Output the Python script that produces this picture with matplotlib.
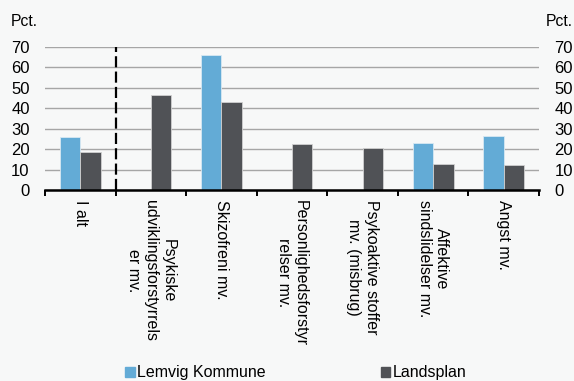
import numpy as np
import matplotlib.pyplot as plt
from matplotlib.patches import Patch

plt.rcParams['font.family'] = ['Liberation Sans', 'DejaVu Sans']

categories = ["I alt", "Psykiske\nudviklingsforstyrrels\ner mv.", "Skizofreni mv.",
              "Personlighedsforstyr\nrelser mv.", "Psykoaktive stoffer\nmv. (misbrug)",
              "Affektive\nsindslidelser mv.", "Angst mv."]
lemvig = [25.8, np.nan, 66.1, np.nan, np.nan, 22.9, 26.4]
landsplan = [18.8, 46.7, 43.3, 22.6, 20.6, 12.8, 12.3]

blue = "#63abd6"
dark = "#505256"
bg = "#f7f8f8"

fig = plt.figure(figsize=(5.74, 3.81), dpi=100, facecolor=bg)
ax = fig.add_axes([45 / 574, 1 - 190 / 381, 494 / 574, 143 / 381], facecolor=bg)

x = np.arange(len(categories))
w = 0.29
ax.bar(x - w / 2, lemvig, w, color=blue, edgecolor="#d8e8f2", linewidth=0.6, zorder=3)
ax.bar(x + w / 2, landsplan, w, color=dark, edgecolor="#d0d0d0", linewidth=0.6, zorder=3)

ax.set_xlim(-0.5, len(categories) - 0.5)
ax.set_ylim(0, 70)
ax.set_yticks(range(0, 80, 10))
ax.yaxis.grid(True, color="#a6a6a6", linewidth=1.0, zorder=0)
ax.set_axisbelow(True)

# dashed separator after "I alt"
ax.plot([0.5, 0.5], [0, 70], color="black", linewidth=1.6, dashes=(5.0, 1.9), zorder=4)

for s in ["left", "right", "top"]:
    ax.spines[s].set_visible(False)
ax.spines["bottom"].set_linewidth(1.8)
ax.spines["bottom"].set_zorder(5)

ax.set_xticks(np.arange(-0.5, len(categories), 1.0))
ax.set_xticklabels([])
ax.tick_params(axis="x", which="major", length=4, width=1.4, direction="out")
ax.set_xticks(x, minor=True)
ax.set_xticklabels(categories, minor=True, rotation=270, fontsize=11.5,
                   ha="center", va="top", multialignment="center")
ax.tick_params(axis="x", which="minor", length=0, pad=7)

ax.tick_params(axis="y", length=0, labelsize=12, pad=11,
               left=True, right=True, labelleft=True, labelright=True)

fig.text(11 / 574, 1 - 22 / 381, "Pct.", fontsize=11.3, va="center", ha="left")
fig.text(546 / 574, 1 - 22 / 381, "Pct.", fontsize=11.3, va="center", ha="left")

handles = [Patch(color=blue, label="Lemvig Kommune"), Patch(color=dark, label="Landsplan")]
fig.legend(handles=handles, loc="center", bbox_to_anchor=(0.515, 1 - 373 / 381),
           ncol=2, frameon=False, fontsize=11.5, handlelength=0.6, handleheight=0.6,
           handletextpad=0.15, columnspacing=7.2)

fig.savefig("out.png", dpi=100, facecolor=bg)
